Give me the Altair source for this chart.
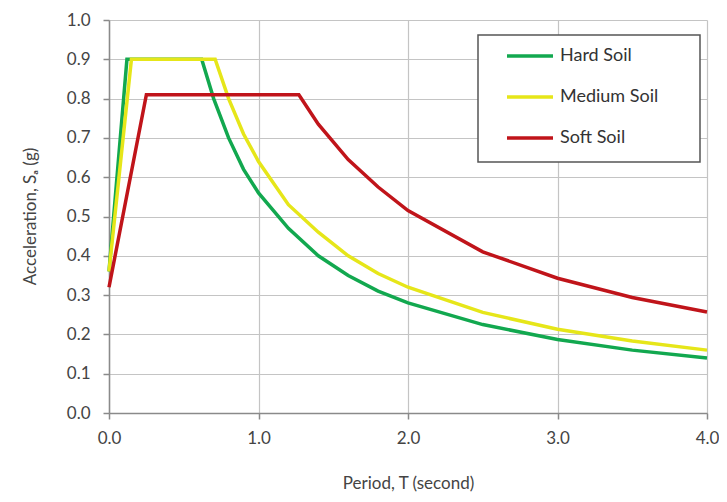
import altair as alt
import pandas as pd

# Data
series_names = ["Hard Soil", "Medium Soil", "Soft Soil"]
series_colors = ["#12a84f", "#e6e619", "#c0141a"]

hard_T = [0.0, 0.12, 0.62, 0.70, 0.80, 0.90, 1.00, 1.20, 1.40, 1.60, 1.80, 2.00, 2.50, 3.00, 3.50, 4.00]
hard_Sa = [0.36, 0.90, 0.90, 0.80, 0.70, 0.62, 0.56, 0.47, 0.40, 0.35, 0.31, 0.28, 0.225, 0.187, 0.160, 0.140]

medium_T = [0.0, 0.15, 0.71, 0.80, 0.90, 1.00, 1.20, 1.40, 1.60, 1.80, 2.00, 2.50, 3.00, 3.50, 4.00]
medium_Sa = [0.36, 0.90, 0.90, 0.80, 0.71, 0.64, 0.53, 0.46, 0.40, 0.355, 0.32, 0.256, 0.213, 0.183, 0.160]

soft_T = [0.0, 0.25, 1.27, 1.40, 1.60, 1.70, 1.80, 2.00, 2.50, 3.00, 3.50, 4.00]
soft_Sa = [0.32, 0.81, 0.81, 0.735, 0.645, 0.61, 0.575, 0.515, 0.41, 0.343, 0.294, 0.257]

x_ticks = [0, 1, 2, 3, 4]
y_ticks = [0.0, 0.1, 0.2, 0.3, 0.4, 0.5, 0.6, 0.7, 0.8, 0.9, 1.0]

rows = []
for name, ts, ss in zip(series_names, [hard_T, medium_T, soft_T], [hard_Sa, medium_Sa, soft_Sa]):
    for t, s in zip(ts, ss):
        rows.append({"Series": name, "T": t, "Sa": s})
df = pd.DataFrame(rows)

FONT = "Lato"

lines = alt.Chart(df).mark_line(strokeWidth=3.5).encode(
    x=alt.X("T:Q",
            scale=alt.Scale(domain=[0, 4], nice=False),
            axis=alt.Axis(values=x_ticks, format=".1f", title="Period, T (second)",
                          labelPadding=11, tickSize=6, labelFlush=False,
                          titleX=299, titleY=70, titleBaseline="middle")),
    y=alt.Y("Sa:Q",
            scale=alt.Scale(domain=[0, 1], nice=False),
            axis=alt.Axis(values=y_ticks, format=".1f", title="Acceleration,  Sₐ (g)",
                          labelPadding=13, tickSize=6, labelFlush=False,
                          titleX=-79, titleY=196, titleBaseline="middle", titleAngle=-90)),
    color=alt.Color("Series:N",
                    scale=alt.Scale(domain=series_names, range=series_colors),
                    legend=alt.Legend(title=None, orient="none", legendX=396, legendY=11,
                                      symbolType="stroke", symbolSize=2116, symbolStrokeWidth=3.5,
                                      rowPadding=7, padding=0, labelOffset=5,
                                      labelFontSize=18, labelFont=FONT, labelColor="#333333")),
)

box = alt.Chart(pd.DataFrame({"k": [0]})).mark_rect(fill="white", stroke="#555555", strokeWidth=1.5).encode(
    x=alt.value(369), x2=alt.value(591), y=alt.value(15), y2=alt.value(142)
)

chart = alt.layer(lines, box).properties(
    width=598, height=393,
    background="white",
    autosize=alt.AutoSizeParams(type="none"),
    padding={"left": 101, "top": 12, "right": 12, "bottom": 81},
).configure_view(stroke=None).configure_axis(
    gridColor="#c4c4c4", gridWidth=1.2,
    domainColor="#8a8a8a", domainWidth=1.5,
    tickColor="#8a8a8a", tickWidth=1.5,
    labelFont=FONT, labelFontSize=17, labelColor="#444444",
    titleFont=FONT, titleFontSize=17, titleColor="#444444", titleFontWeight="normal",
)

chart.save("out.html", embed_options={"renderer": "svg", "actions": False})
